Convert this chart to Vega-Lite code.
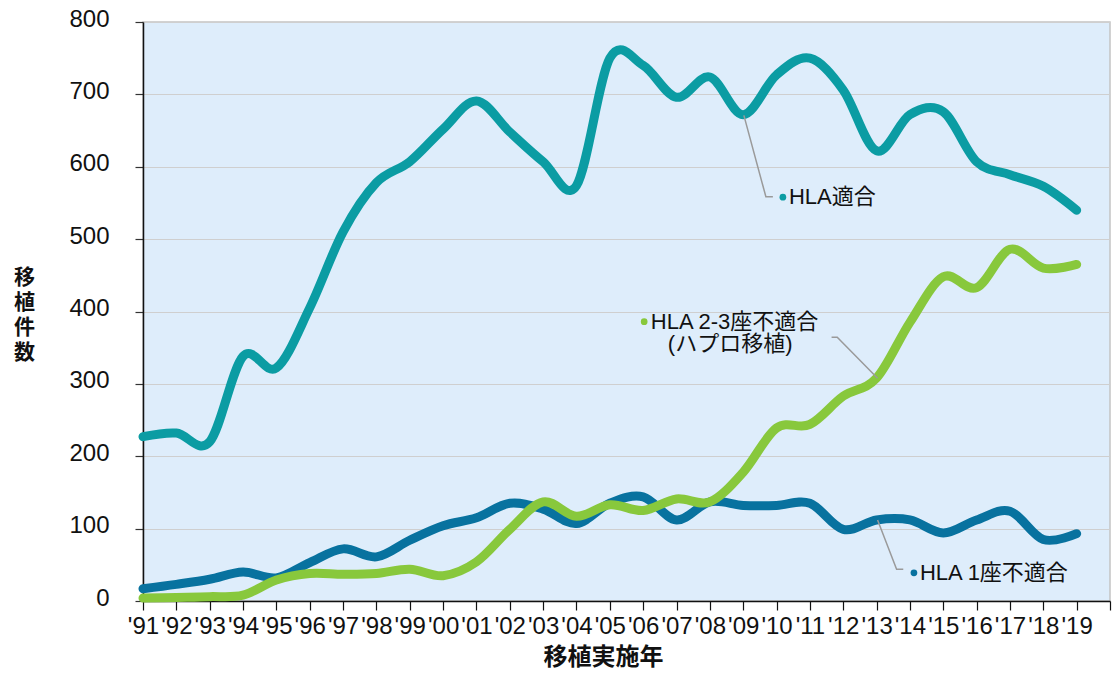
{
  "$schema": "https://vega.github.io/schema/vega-lite/v6.json",
  "autosize": "none",
  "width": 967,
  "height": 579,
  "padding": {"left": 143, "top": 22, "right": 3, "bottom": 74},
  "background": "white",
  "config": {
    "view": {"fill": "#deedfb", "stroke": "#c4c4c4", "strokeWidth": 1.5},
    "font": "Liberation Sans"
  },
  "datasets": {
    "series": [
      {"series": "HLA適合", "year": 1991, "value": 227},
      {"series": "HLA適合", "year": 1992, "value": 232},
      {"series": "HLA適合", "year": 1993, "value": 220},
      {"series": "HLA適合", "year": 1994, "value": 338},
      {"series": "HLA適合", "year": 1995, "value": 322},
      {"series": "HLA適合", "year": 1996, "value": 405},
      {"series": "HLA適合", "year": 1997, "value": 510},
      {"series": "HLA適合", "year": 1998, "value": 578},
      {"series": "HLA適合", "year": 1999, "value": 607},
      {"series": "HLA適合", "year": 2000, "value": 652},
      {"series": "HLA適合", "year": 2001, "value": 691},
      {"series": "HLA適合", "year": 2002, "value": 648},
      {"series": "HLA適合", "year": 2003, "value": 607},
      {"series": "HLA適合", "year": 2004, "value": 574},
      {"series": "HLA適合", "year": 2005, "value": 750},
      {"series": "HLA適合", "year": 2006, "value": 740},
      {"series": "HLA適合", "year": 2007, "value": 696},
      {"series": "HLA適合", "year": 2008, "value": 724},
      {"series": "HLA適合", "year": 2009, "value": 672},
      {"series": "HLA適合", "year": 2010, "value": 727},
      {"series": "HLA適合", "year": 2011, "value": 750},
      {"series": "HLA適合", "year": 2012, "value": 706},
      {"series": "HLA適合", "year": 2013, "value": 622},
      {"series": "HLA適合", "year": 2014, "value": 672},
      {"series": "HLA適合", "year": 2015, "value": 676},
      {"series": "HLA適合", "year": 2016, "value": 607},
      {"series": "HLA適合", "year": 2017, "value": 589},
      {"series": "HLA適合", "year": 2018, "value": 573},
      {"series": "HLA適合", "year": 2019, "value": 540},
      {"series": "HLA 1座不適合", "year": 1991, "value": 17},
      {"series": "HLA 1座不適合", "year": 1992, "value": 23},
      {"series": "HLA 1座不適合", "year": 1993, "value": 30},
      {"series": "HLA 1座不適合", "year": 1994, "value": 40},
      {"series": "HLA 1座不適合", "year": 1995, "value": 32},
      {"series": "HLA 1座不適合", "year": 1996, "value": 53},
      {"series": "HLA 1座不適合", "year": 1997, "value": 72},
      {"series": "HLA 1座不適合", "year": 1998, "value": 61},
      {"series": "HLA 1座不適合", "year": 1999, "value": 84},
      {"series": "HLA 1座不適合", "year": 2000, "value": 104},
      {"series": "HLA 1座不適合", "year": 2001, "value": 115},
      {"series": "HLA 1座不適合", "year": 2002, "value": 135},
      {"series": "HLA 1座不適合", "year": 2003, "value": 127},
      {"series": "HLA 1座不適合", "year": 2004, "value": 107},
      {"series": "HLA 1座不適合", "year": 2005, "value": 135},
      {"series": "HLA 1座不適合", "year": 2006, "value": 144},
      {"series": "HLA 1座不適合", "year": 2007, "value": 112},
      {"series": "HLA 1座不適合", "year": 2008, "value": 137},
      {"series": "HLA 1座不適合", "year": 2009, "value": 132},
      {"series": "HLA 1座不適合", "year": 2010, "value": 132},
      {"series": "HLA 1座不適合", "year": 2011, "value": 135},
      {"series": "HLA 1座不適合", "year": 2012, "value": 99},
      {"series": "HLA 1座不適合", "year": 2013, "value": 112},
      {"series": "HLA 1座不適合", "year": 2014, "value": 112},
      {"series": "HLA 1座不適合", "year": 2015, "value": 94},
      {"series": "HLA 1座不適合", "year": 2016, "value": 112},
      {"series": "HLA 1座不適合", "year": 2017, "value": 124},
      {"series": "HLA 1座不適合", "year": 2018, "value": 85},
      {"series": "HLA 1座不適合", "year": 2019, "value": 93},
      {"series": "HLA 2-3座不適合", "year": 1991, "value": 4},
      {"series": "HLA 2-3座不適合", "year": 1992, "value": 5},
      {"series": "HLA 2-3座不適合", "year": 1993, "value": 6},
      {"series": "HLA 2-3座不適合", "year": 1994, "value": 8},
      {"series": "HLA 2-3座不適合", "year": 1995, "value": 29},
      {"series": "HLA 2-3座不適合", "year": 1996, "value": 38},
      {"series": "HLA 2-3座不適合", "year": 1997, "value": 37},
      {"series": "HLA 2-3座不適合", "year": 1998, "value": 38},
      {"series": "HLA 2-3座不適合", "year": 1999, "value": 44},
      {"series": "HLA 2-3座不適合", "year": 2000, "value": 35},
      {"series": "HLA 2-3座不適合", "year": 2001, "value": 54},
      {"series": "HLA 2-3座不適合", "year": 2002, "value": 99},
      {"series": "HLA 2-3座不適合", "year": 2003, "value": 137},
      {"series": "HLA 2-3座不適合", "year": 2004, "value": 117},
      {"series": "HLA 2-3座不適合", "year": 2005, "value": 133},
      {"series": "HLA 2-3座不適合", "year": 2006, "value": 125},
      {"series": "HLA 2-3座不適合", "year": 2007, "value": 141},
      {"series": "HLA 2-3座不適合", "year": 2008, "value": 137},
      {"series": "HLA 2-3座不適合", "year": 2009, "value": 178},
      {"series": "HLA 2-3座不適合", "year": 2010, "value": 239},
      {"series": "HLA 2-3座不適合", "year": 2011, "value": 244},
      {"series": "HLA 2-3座不適合", "year": 2012, "value": 283},
      {"series": "HLA 2-3座不適合", "year": 2013, "value": 308},
      {"series": "HLA 2-3座不適合", "year": 2014, "value": 385},
      {"series": "HLA 2-3座不適合", "year": 2015, "value": 448},
      {"series": "HLA 2-3座不適合", "year": 2016, "value": 433},
      {"series": "HLA 2-3座不適合", "year": 2017, "value": 486},
      {"series": "HLA 2-3座不適合", "year": 2018, "value": 460},
      {"series": "HLA 2-3座不適合", "year": 2019, "value": 465}
    ],
    "leaders": [
      {"leader": "a", "order": 1, "year": 2009.02, "value": 671},
      {"leader": "a", "order": 2, "year": 2009.68, "value": 558.6},
      {"leader": "a", "order": 3, "year": 2009.89, "value": 558.6},
      {"leader": "b", "order": 1, "year": 2011.65, "value": 364.3},
      {"leader": "b", "order": 2, "year": 2011.82, "value": 364.3},
      {"leader": "b", "order": 3, "year": 2013.03, "value": 307.7},
      {"leader": "c", "order": 1, "year": 2013.03, "value": 111.9},
      {"leader": "c", "order": 2, "year": 2013.6, "value": 43.8},
      {"leader": "c", "order": 3, "year": 2013.8, "value": 43.8}
    ],
    "dots": [
      {"series": "HLA適合", "year": 2010.19, "value": 558},
      {"series": "HLA 2-3座不適合", "year": 2006.03, "value": 386},
      {"series": "HLA 1座不適合", "year": 2014.12, "value": 39}
    ],
    "labels": [
      {"text": "HLA適合", "year": 2010.37, "value": 558},
      {"text": "HLA 2-3座不適合", "year": 2006.23, "value": 386},
      {"text": "(ハプロ移植)", "year": 2006.74, "value": 355},
      {"text": "HLA 1座不適合", "year": 2014.3, "value": 39}
    ]
  },
  "encoding": {
    "x": {
      "field": "year",
      "type": "quantitative",
      "scale": {"domain": [1991, 2020], "nice": false, "zero": false},
      "axis": {
        "title": "移植実施年",
        "titleFont": "Noto Sans CJK JP",
        "titleFontSize": 24,
        "titleFontWeight": "bold",
        "titleColor": "#111111",
        "titleX": 460,
        "titleY": 56,
        "titleBaseline": "middle",
        "titleAlign": "center",
        "values": [1991, 1992, 1993, 1994, 1995, 1996, 1997, 1998, 1999, 2000, 2001, 2002, 2003, 2004, 2005, 2006, 2007, 2008, 2009, 2010, 2011, 2012, 2013, 2014, 2015, 2016, 2017, 2018, 2019, 2020],
        "format": "d",
        "labelExpr": "datum.value >= 2020 ? '' : \"'\" + slice(datum.label, 2)",
        "labelFontSize": 24,
        "labelColor": "#111111",
        "labelFlush": false,
        "labelOverlap": false,
        "labelPadding": 4,
        "labelBaseline": "top",
        "tickSize": 9,
        "tickColor": "#111111",
        "tickWidth": 1.2,
        "domainColor": "#111111",
        "domainWidth": 1.5,
        "grid": false
      }
    },
    "y": {
      "field": "value",
      "type": "quantitative",
      "scale": {"domain": [0, 800], "nice": false},
      "axis": {
        "title": ["移", "植", "件", "数"],
        "titleAngle": 0,
        "titleFont": "Noto Sans CJK JP",
        "titleFontSize": 21,
        "titleFontWeight": "bold",
        "titleColor": "#111111",
        "titleLineHeight": 25,
        "titleAlign": "center",
        "titleBaseline": "top",
        "titleX": -119,
        "titleY": 244,
        "values": [0, 100, 200, 300, 400, 500, 600, 700, 800],
        "labelFontSize": 24,
        "labelColor": "#111111",
        "labelPadding": 26,
        "labelOffset": -3,
        "tickSize": 8,
        "tickColor": "#333333",
        "tickWidth": 1.2,
        "domainColor": "#111111",
        "domainWidth": 1.5,
        "gridColor": "#cfcfcf",
        "gridWidth": 1.2
      }
    }
  },
  "layer": [
    {
      "data": {"name": "series"},
      "transform": [{"filter": "datum.series == 'HLA適合'"}],
      "mark": {"type": "line", "interpolate": "cardinal", "strokeWidth": 9, "strokeCap": "round", "strokeJoin": "round", "color": "#0b9ca3"}
    },
    {
      "data": {"name": "series"},
      "transform": [{"filter": "datum.series == 'HLA 1座不適合'"}],
      "mark": {"type": "line", "interpolate": "cardinal", "strokeWidth": 9, "strokeCap": "round", "strokeJoin": "round", "color": "#08729f"}
    },
    {
      "data": {"name": "series"},
      "transform": [{"filter": "datum.series == 'HLA 2-3座不適合'"}],
      "mark": {"type": "line", "interpolate": "cardinal", "strokeWidth": 9, "strokeCap": "round", "strokeJoin": "round", "color": "#88c83c"}
    },
    {
      "data": {"name": "leaders"},
      "mark": {"type": "line", "color": "#9a9a9a", "strokeWidth": 1.5},
      "encoding": {
        "detail": {"field": "leader"},
        "order": {"field": "order", "type": "quantitative"}
      }
    },
    {
      "data": {"name": "dots"},
      "mark": {"type": "point", "filled": true, "size": 45, "opacity": 1},
      "encoding": {
        "color": {
          "field": "series",
          "type": "nominal",
          "scale": {"domain": ["HLA適合", "HLA 1座不適合", "HLA 2-3座不適合"], "range": ["#0b9ca3", "#08729f", "#88c83c"]},
          "legend": null
        }
      }
    },
    {
      "data": {"name": "labels"},
      "mark": {"type": "text", "align": "left", "baseline": "middle", "fontSize": 22, "font": "Liberation Sans, Noto Sans CJK JP", "color": "#111111"},
      "encoding": {"text": {"field": "text"}}
    }
  ]
}
